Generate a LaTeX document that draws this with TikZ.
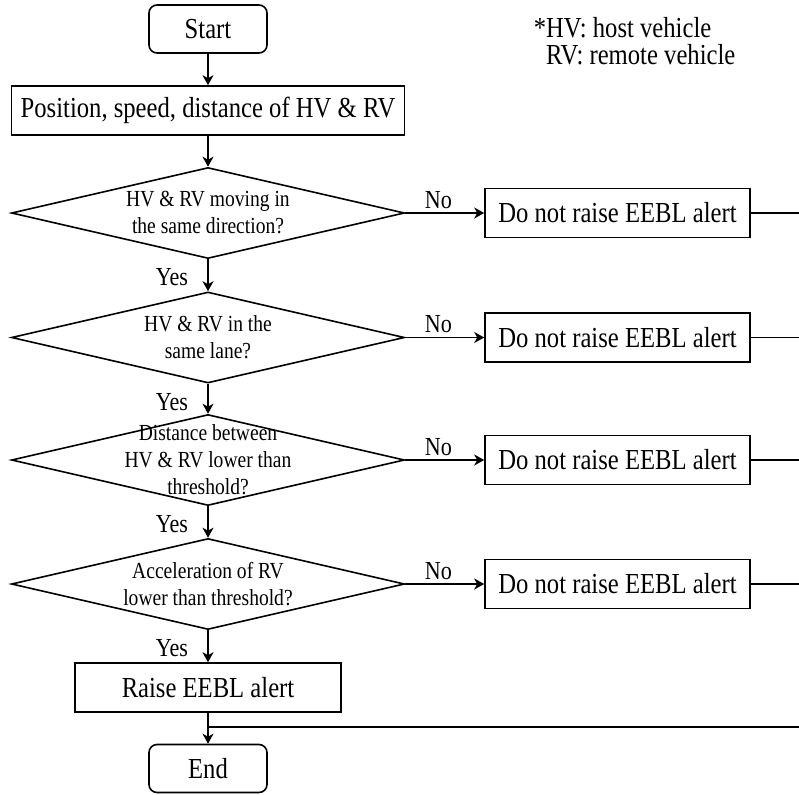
\documentclass[tikz,border=0pt]{standalone}
\usepackage{fontspec}
\setmainfont{Liberation Serif}[FakeStretch=0.85]
\usetikzlibrary{arrows.meta,positioning,shapes.geometric,calc}

\begin{document}
\begin{tikzpicture}[x=0.5pt, y=-0.5pt, line width=0.8pt]
    \tikzset{terminal/.style={rectangle, rounded corners=4pt, minimum width=59pt,
      minimum height=24pt, draw, font=\fontsize{14.5}{17}\selectfont}}
    \tikzset{procbox/.style={rectangle, minimum height=24.5pt, draw,
      font=\fontsize{14.5}{17}\selectfont}}
    \tikzset{decision/.style={diamond, minimum width=196.5pt, minimum height=45.5pt,
      draw, inner sep=0pt}}
    \tikzset{dtext/.style={align=center, font=\fontsize{11.5}{13.5}\selectfont}}
    \tikzset{yn/.style={font=\fontsize{13}{15}\selectfont}}
    \tikzset{flow/.style={-{Stealth[length=5pt, width=5.5pt, inset=1.5pt]}}}

    \useasboundingbox (0,0) rectangle (799,794);

    % Main column
    \node[terminal] (start) at (208,29) {Start};
    \node[procbox, minimum width=196.5pt] (input) at (208,110.5)
      {Position, speed, distance of HV \& RV};
    \node[decision] (d1) at (208,213) {};
    \node[decision] (d2) at (208,337.5) {};
    \node[decision] (d3) at (208,460) {};
    \node[decision] (d4) at (208,584) {};
    \node[dtext] (q1) at (d1) {HV \& RV moving in\\the same direction?};
    \node[dtext] (q2) at (d2) {HV \& RV in the\\same lane?};
    \node[dtext] (q3) at (d3) {Distance between\\HV \& RV lower than\\threshold?};
    \node[dtext] (q4) at (d4) {Acceleration of RV\\lower than threshold?};
    \node[procbox, minimum width=133pt] (raise) at (208,687.5) {Raise EEBL alert};
    \node[terminal] (end) at (208,768.5) {End};

    % Right column: no alert
    \foreach \i in {1,...,4}{
      \node[procbox, minimum width=132.5pt] (n\i) at (d\i.east -| 617.5,0)
        {Do not raise EEBL alert};
    }

    % Note
    \node[align=left, anchor=north west, inner sep=0pt, font=\fontsize{14.5}{13.5}\selectfont]
      (note) at (533,17) {*HV: host vehicle\\\hphantom{*}RV: remote vehicle};

    % Arrows down the column
    \draw[flow] (start) -- (input);
    \draw[flow] (input) -- (d1);
    \foreach \a/\b in {d1/d2, d2/d3, d3/d4, d4/raise}{
      \draw[flow] (\a) -- (\b);
      \node[yn] (y\a) at ($(\a.south)+(-36,18)$) {Yes};
    }
    \draw[flow] (raise) -- (end);

    % No branches, lines leave to the right
    \coordinate (edge) at (799,0);
    \foreach \i in {1,...,4}{
      \draw[flow] (d\i.east) -- (n\i.west);
      \node[yn] (no\i) at ($(d\i.east)+(33,-13)$) {No};
      \draw (n\i.east) -- (n\i.east -| edge);
    }
    \coordinate (merge) at (208,727);
    \draw (merge) -- (merge -| edge);
  \end{tikzpicture}
\end{document}
